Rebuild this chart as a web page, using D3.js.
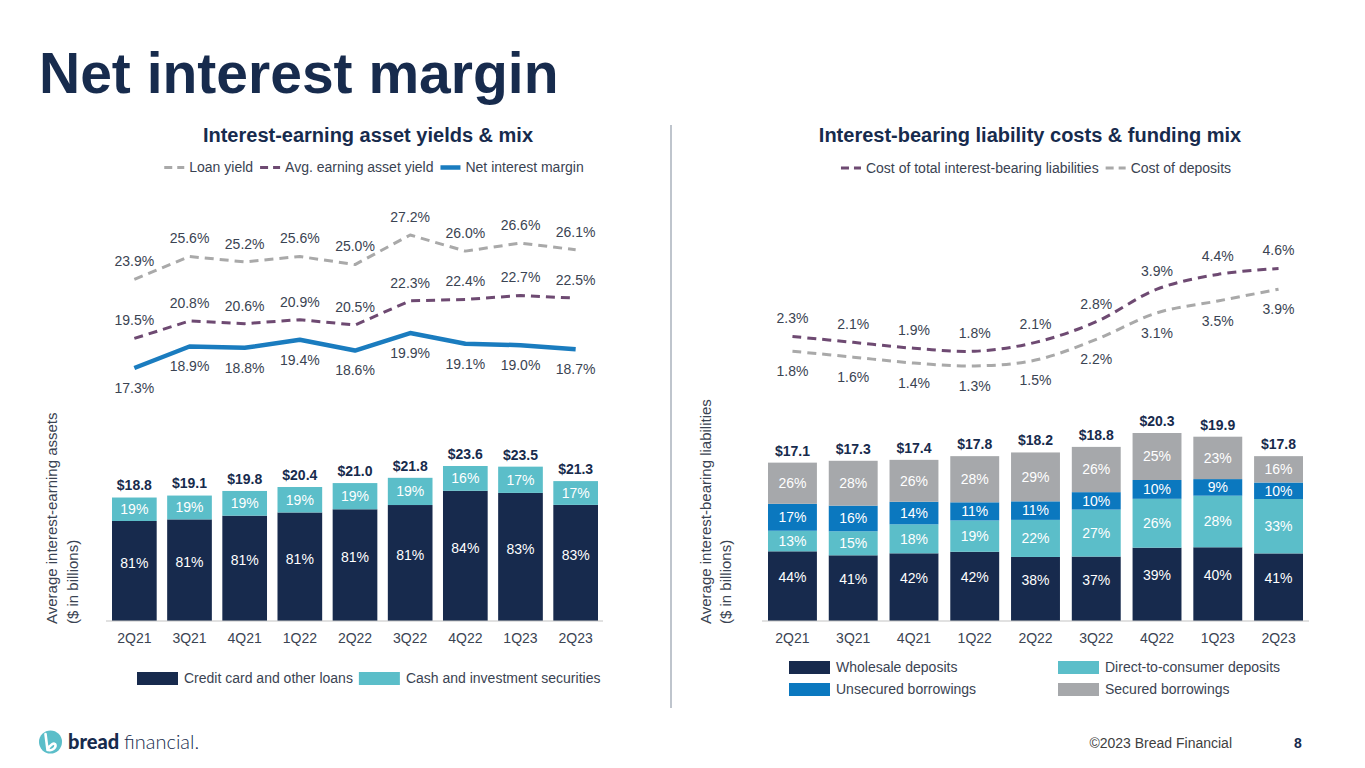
<!DOCTYPE html>
<html>
<head>
<meta charset="utf-8">
<script src="https://cdn.jsdelivr.net/npm/d3@7"></script>
<style>
  html, body { margin: 0; padding: 0; background: #ffffff; }
  svg { display: block; font-family: "Liberation Sans", Arial, sans-serif; }
</style>
</head>
<body>
<svg id="chart" width="1365" height="768"></svg>
<script>
// ---------------- DATA ----------------
const quarters = ["2Q21","3Q21","4Q21","1Q22","2Q22","3Q22","4Q22","1Q23","2Q23"];

// Left: Interest-earning asset yields & mix
const loanYield      = [23.9, 25.6, 25.2, 25.6, 25.0, 27.2, 26.0, 26.6, 26.1];
const avgEarningYield = [19.5, 20.8, 20.6, 20.9, 20.5, 22.3, 22.4, 22.7, 22.5];
const netInterestMargin = [17.3, 18.9, 18.8, 19.4, 18.6, 19.9, 19.1, 19.0, 18.7];
const earningAssetsTotal = [18.8, 19.1, 19.8, 20.4, 21.0, 21.8, 23.6, 23.5, 21.3];
const creditCardLoansPct = [81, 81, 81, 81, 81, 81, 84, 83, 83];
const cashSecuritiesPct  = [19, 19, 19, 19, 19, 19, 16, 17, 17];

// Right: Interest-bearing liability costs & funding mix
const costTotalLiab = [2.3, 2.1, 1.9, 1.8, 2.1, 2.8, 3.9, 4.4, 4.6];
const costDeposits  = [1.8, 1.6, 1.4, 1.3, 1.5, 2.2, 3.1, 3.5, 3.9];
const liabTotal     = [17.1, 17.3, 17.4, 17.8, 18.2, 18.8, 20.3, 19.9, 17.8];
const wholesalePct  = [44, 41, 42, 42, 38, 37, 39, 40, 41];
const directPct     = [13, 15, 18, 19, 22, 27, 26, 28, 33];
const unsecuredPct  = [17, 16, 14, 11, 11, 10, 10, 9, 10];
const securedPct    = [26, 28, 26, 28, 29, 26, 25, 23, 16];

// ---------------- STYLE ----------------
const C = {
  navy: "#172a4d",
  cyan: "#5bbec9",
  blue: "#0b78bf",
  gray: "#a6a8ab",
  lineGray: "#a9a9a9",
  purple: "#6e4a72",
  nim: "#1a7cbf",
  text: "#3a4352",
  title: "#172b4d"
};
const FONT = '"Liberation Sans", Arial, sans-serif';

const svg = d3.select("#chart");

// Title
svg.append("text").attr("x", 39).attr("y", 93)
  .attr("font-size", 57).attr("font-weight", 700).attr("fill", C.title)
  .text("Net interest margin");

// Divider
svg.append("line").attr("x1", 671).attr("x2", 671).attr("y1", 125).attr("y2", 708)
  .attr("stroke", "#aab2bc").attr("stroke-width", 1.5);

// ---------- helper: centered line legend ----------
function lineLegend(items, cx, cy, fs) {
  const g = svg.append("g");
  let x = 0;
  items.forEach(it => {
    const ln = g.append("line").attr("x1", x).attr("x2", x + 20).attr("y1", cy).attr("y2", cy)
      .attr("stroke", it.color).attr("stroke-width", it.width);
    if (it.dash) ln.attr("stroke-dasharray", it.dash);
    x += 25;
    const t = g.append("text").attr("x", x).attr("y", cy).attr("dy", "0.35em")
      .attr("font-size", fs).attr("fill", C.text).text(it.label);
    x += t.node().getComputedTextLength() + 7;
  });
  const w = x - 7;
  g.attr("transform", `translate(${cx - w / 2},0)`);
}

// ================= LEFT PANEL =================
const xL = d3.scaleBand().domain(quarters).range([112, 598]).paddingInner(0.19).paddingOuter(0);
const yLBar = d3.scaleLinear().domain([0, 23.6]).range([621, 466]);
const yLLine = d3.scaleLinear().domain([17.3, 27.2]).range([368, 235]);
const cxL = q => xL(q) + xL.bandwidth() / 2;

svg.append("text").attr("x", 368).attr("y", 135).attr("dy", "0.35em").attr("text-anchor", "middle")
  .attr("font-size", 20).attr("font-weight", 700).attr("fill", C.title)
  .text("Interest-earning asset yields & mix");

lineLegend([
  {label: "Loan yield", color: C.lineGray, width: 3, dash: "8,5"},
  {label: "Avg. earning asset yield", color: C.purple, width: 3, dash: "8,5"},
  {label: "Net interest margin", color: C.nim, width: 4.5}
], 374, 167.5, 14);

// Bars (stacked)
const leftBars = quarters.map((q, i) => ({q, total: earningAssetsTotal[i], loans: creditCardLoansPct[i], cash: cashSecuritiesPct[i]}));
const gLB = svg.append("g");
leftBars.forEach(d => {
  const hLoans = d.total * d.loans / 100;
  const y0 = yLBar(0), y1 = yLBar(hLoans), y2 = yLBar(d.total);
  gLB.append("rect").attr("x", xL(d.q)).attr("width", xL.bandwidth()).attr("y", y1).attr("height", y0 - y1).attr("fill", C.navy);
  gLB.append("rect").attr("x", xL(d.q)).attr("width", xL.bandwidth()).attr("y", y2).attr("height", y1 - y2).attr("fill", C.cyan);
  gLB.append("text").attr("x", cxL(d.q)).attr("y", (y0 + y1) / 2 - 8).attr("dy", "0.35em").attr("text-anchor", "middle")
    .attr("font-size", 14).attr("fill", "#ffffff").text(d.loans + "%");
  gLB.append("text").attr("x", cxL(d.q)).attr("y", (y1 + y2) / 2).attr("dy", "0.35em").attr("text-anchor", "middle")
    .attr("font-size", 14).attr("fill", "#ffffff").text(d.cash + "%");
  gLB.append("text").attr("x", cxL(d.q)).attr("y", y2 - 12).attr("dy", "0.35em").attr("text-anchor", "middle")
    .attr("font-size", 14).attr("font-weight", 700).attr("fill", C.title).text("$" + d.total.toFixed(1));
});

// x axis
const axL = svg.append("g").attr("transform", "translate(0,621)")
  .call(d3.axisBottom(xL).tickSize(0).tickPadding(12));
axL.select(".domain").remove();
axL.selectAll("text").attr("font-size", 14).attr("font-family", FONT).attr("fill", C.text);
svg.append("line").attr("x1", 106).attr("x2", 603).attr("y1", 621).attr("y2", 621).attr("stroke", "#c4c4c4").attr("stroke-width", 1.2);

// y title
const ytL = svg.append("g").attr("transform", "translate(52,624) rotate(-90)");
ytL.append("text").attr("x", 0).attr("y", 0).attr("dy", "0.35em").attr("font-size", 15).attr("fill", C.text).text("Average interest-earning assets");
ytL.append("text").attr("x", 0).attr("y", 21).attr("dy", "0.35em").attr("font-size", 15).attr("fill", C.text).text("($ in billions)");

// Lines
function drawLine(data, xs, ys, color, width, dash, curve, labelOffset, fs) {
  const pts = quarters.map((q, i) => ({q, v: data[i]}));
  const line = d3.line().x(d => xs(d.q)).y(d => ys(d.v)).curve(curve);
  const p = svg.append("path").datum(pts).attr("d", line).attr("fill", "none")
    .attr("stroke", color).attr("stroke-width", width).attr("stroke-linejoin", "round");
  if (dash) p.attr("stroke-dasharray", dash);
  svg.append("g").selectAll("text").data(pts).join("text")
    .attr("x", d => xs(d.q)).attr("y", d => ys(d.v) + labelOffset).attr("dy", "0.35em")
    .attr("text-anchor", "middle").attr("font-size", fs).attr("fill", C.text)
    .text(d => d.v.toFixed(1) + "%");
}
drawLine(loanYield, cxL, yLLine, C.lineGray, 3, "9,6", d3.curveLinear, -18, 14);
drawLine(avgEarningYield, cxL, yLLine, C.purple, 3, "9,6", d3.curveLinear, -18, 14);
drawLine(netInterestMargin, cxL, yLLine, C.nim, 4.5, null, d3.curveLinear, 20, 14);

// Bottom legend left
(function () {
  const items = [{label: "Credit card and other loans", color: C.navy}, {label: "Cash and investment securities", color: C.cyan}];
  let x = 137;
  items.forEach(it => {
    svg.append("rect").attr("x", x).attr("y", 672).attr("width", 41).attr("height", 13).attr("fill", it.color);
    x += 47;
    const t = svg.append("text").attr("x", x).attr("y", 678.5).attr("dy", "0.35em").attr("font-size", 14).attr("fill", C.text).text(it.label);
    x += t.node().getComputedTextLength() + 6;
  });
})();

// ================= RIGHT PANEL =================
const xR = d3.scaleBand().domain(quarters).range([768, 1303]).paddingInner(0.195).paddingOuter(0);
const yRBar = d3.scaleLinear().domain([0, 20.3]).range([621, 433]);
const yRLine = d3.scaleLinear().domain([1.3, 4.6]).range([366, 268.5]);
const cxR = q => xR(q) + xR.bandwidth() / 2;

svg.append("text").attr("x", 1030).attr("y", 135).attr("dy", "0.35em").attr("text-anchor", "middle")
  .attr("font-size", 20).attr("font-weight", 700).attr("fill", C.title)
  .text("Interest-bearing liability costs & funding mix");

lineLegend([
  {label: "Cost of total interest-bearing liabilities", color: C.purple, width: 3, dash: "8,5"},
  {label: "Cost of deposits", color: C.lineGray, width: 3, dash: "8,5"}
], 1036, 168, 14);

const segs = [
  {key: "Wholesale deposits", vals: wholesalePct, color: C.navy, lift: 9},
  {key: "Direct-to-consumer deposits", vals: directPct, color: C.cyan, lift: 0},
  {key: "Unsecured borrowings", vals: unsecuredPct, color: C.blue, lift: 0},
  {key: "Secured borrowings", vals: securedPct, color: C.gray, lift: 0}
];
const gRB = svg.append("g");
quarters.forEach((q, i) => {
  let cum = 0;
  segs.forEach(s => {
    const pct = s.vals[i];
    const a = liabTotal[i] * cum / 100, b = liabTotal[i] * (cum + pct) / 100;
    cum += pct;
    const ya = yRBar(a), yb = yRBar(b);
    gRB.append("rect").attr("x", xR(q)).attr("width", xR.bandwidth()).attr("y", yb).attr("height", ya - yb).attr("fill", s.color);
    gRB.append("text").attr("x", cxR(q)).attr("y", (ya + yb) / 2 - s.lift).attr("dy", "0.35em").attr("text-anchor", "middle")
      .attr("font-size", 14).attr("fill", "#ffffff").text(pct + "%");
  });
  gRB.append("text").attr("x", cxR(q)).attr("y", yRBar(liabTotal[i]) - 12).attr("dy", "0.35em").attr("text-anchor", "middle")
    .attr("font-size", 14).attr("font-weight", 700).attr("fill", C.title).text("$" + liabTotal[i].toFixed(1));
});

const axR = svg.append("g").attr("transform", "translate(0,621)")
  .call(d3.axisBottom(xR).tickSize(0).tickPadding(12));
axR.select(".domain").remove();
axR.selectAll("text").attr("font-size", 14).attr("font-family", FONT).attr("fill", C.text);
svg.append("line").attr("x1", 762).attr("x2", 1309).attr("y1", 621).attr("y2", 621).attr("stroke", "#c4c4c4").attr("stroke-width", 1.2);

const ytR = svg.append("g").attr("transform", "translate(706,624) rotate(-90)");
ytR.append("text").attr("x", 0).attr("y", 0).attr("dy", "0.35em").attr("font-size", 15).attr("fill", C.text).text("Average interest-bearing liabilities");
ytR.append("text").attr("x", 0).attr("y", 20).attr("dy", "0.35em").attr("font-size", 15).attr("fill", C.text).text("($ in billions)");

drawLine(costTotalLiab, cxR, yRLine, C.purple, 3, "9,6", d3.curveCatmullRom.alpha(0.5), -18, 14);
drawLine(costDeposits, cxR, yRLine, C.lineGray, 3, "9,6", d3.curveCatmullRom.alpha(0.5), 20, 14);

// Bottom legend right (2 x 2): Wholesale | Direct ; Unsecured | Secured
const legPos = [[789, 661], [1058, 661], [789, 683], [1058, 683]];
const legOrder = [0, 1, 2, 3];
legOrder.forEach((si, k) => {
  const s = segs[si];
  const [x, y] = legPos[k];
  svg.append("rect").attr("x", x).attr("y", y).attr("width", 41).attr("height", 13).attr("fill", s.color);
  svg.append("text").attr("x", x + 47).attr("y", y + 6.5).attr("dy", "0.35em").attr("font-size", 14).attr("fill", C.text).text(s.key);
});

// ================= FOOTER =================
const logo = svg.append("g");
logo.append("circle").attr("cx", 50.5).attr("cy", 742).attr("r", 11.5).attr("fill", C.cyan);
logo.append("path").attr("d", "M45.5,734 L47.5,750 M47.5,750 C50,744 55,742 55.5,745 C56,748 52,751 48.5,750")
  .attr("fill", "none").attr("stroke", "#ffffff").attr("stroke-width", 2.6).attr("stroke-linecap", "round");
logo.append("text").attr("x", 68).attr("y", 748.5).attr("font-family", "Lato, 'Noto Sans', sans-serif")
  .attr("font-size", 20).attr("font-weight", 900).attr("fill", C.title).text("bread");
logo.append("text").attr("x", 124).attr("y", 748.5).attr("font-family", "Lato, 'Noto Sans', sans-serif")
  .attr("font-size", 20).attr("font-weight", 300).attr("fill", C.title).text("financial.");

svg.append("text").attr("x", 1232).attr("y", 743).attr("dy", "0.35em").attr("text-anchor", "end")
  .attr("font-size", 14).attr("fill", "#404040").text("©2023 Bread Financial");
svg.append("text").attr("x", 1298).attr("y", 743).attr("dy", "0.35em").attr("text-anchor", "middle")
  .attr("font-size", 14).attr("font-weight", 700).attr("fill", C.title).text("8");
</script>
</body>
</html>
